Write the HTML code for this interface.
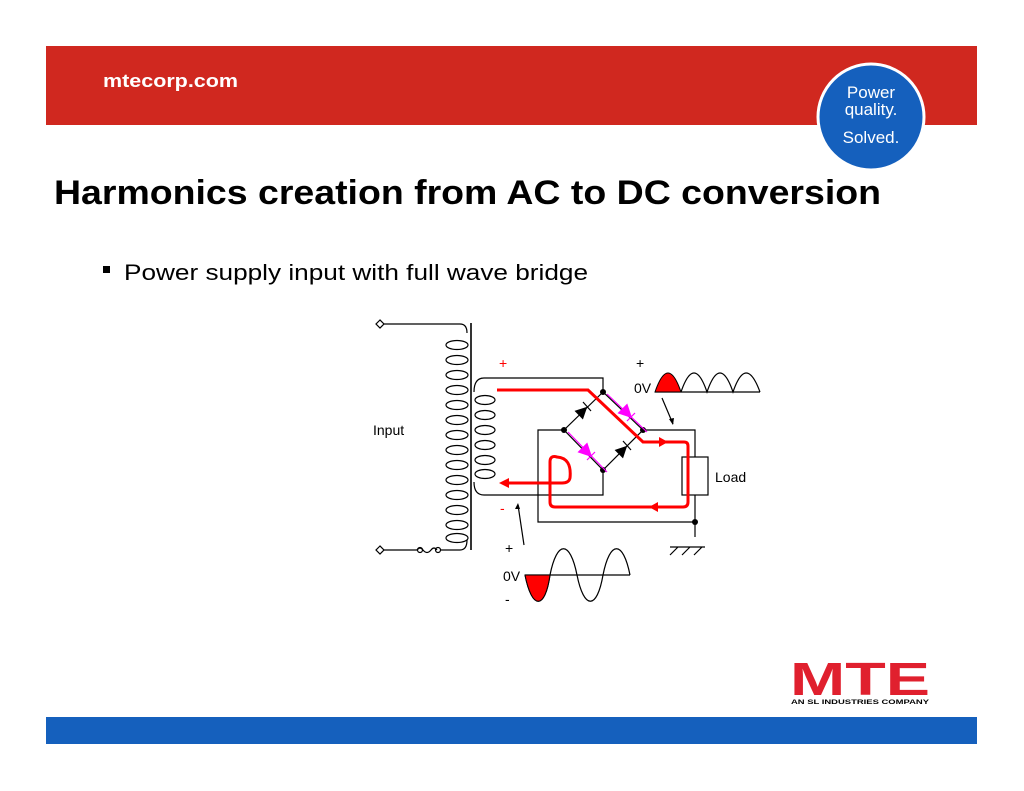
<!DOCTYPE html>
<html><head><meta charset="utf-8"><style>html,body{margin:0;padding:0;background:#fff}svg{display:block}</style></head>
<body>
<svg width="1024" height="791" viewBox="0 0 1024 791" xmlns="http://www.w3.org/2000/svg" font-family="Liberation Sans, sans-serif">
<rect x="0" y="0" width="1024" height="791" fill="#fff"/>
<rect x="46" y="46" width="931" height="79" fill="#d0281f"/>
<text x="103" y="87" font-size="18" font-weight="bold" fill="#fff" textLength="135" lengthAdjust="spacingAndGlyphs">mtecorp.com</text>
<circle cx="871" cy="117" r="53" fill="#1560bd" stroke="#fff" stroke-width="3"/>
<g fill="#fff" font-size="17" text-anchor="middle">
<text x="871" y="98">Power</text><text x="871" y="115">quality.</text><text x="871" y="143">Solved.</text></g>
<text x="54" y="204" font-size="34" font-weight="bold" fill="#000" textLength="827" lengthAdjust="spacingAndGlyphs">Harmonics creation from AC to DC conversion</text>
<rect x="103" y="266" width="7" height="7" fill="#000"/>
<text x="124" y="280" font-size="22" fill="#000" textLength="464" lengthAdjust="spacingAndGlyphs">Power supply input with full wave bridge</text>
<rect x="46" y="717" width="931" height="27" fill="#1560bd"/>
<text x="790" y="695" font-size="46" font-weight="900" fill="#e0202e" textLength="140" lengthAdjust="spacingAndGlyphs">MTE</text>
<text x="791" y="704" font-size="6" font-weight="bold" fill="#000" textLength="138" lengthAdjust="spacingAndGlyphs">AN SL INDUSTRIES COMPANY</text>

<g fill="none" stroke="#000" stroke-width="1.2">
<path d="M384 324 H460 Q467 324 467 333 M384 550 H417 M440 550 H460 Q467 550 467 540"/>
<path d="M417 550 q3 -4 6 0 q4 5 8 0 q3 -4 6 0" />
<circle cx="420" cy="550" r="2.5"/><circle cx="438" cy="550" r="2.5"/>
<path d="M380 320 l-4 4 4 4 4 -4z M380 546 l-4 4 4 4 4 -4z"/>
<line x1="471" y1="323" x2="471" y2="550" stroke-width="1.6"/>
<ellipse cx="457" cy="345" rx="11" ry="4.5"/><ellipse cx="457" cy="360" rx="11" ry="4.5"/><ellipse cx="457" cy="375" rx="11" ry="4.5"/><ellipse cx="457" cy="390" rx="11" ry="4.5"/><ellipse cx="457" cy="405" rx="11" ry="4.5"/><ellipse cx="457" cy="420" rx="11" ry="4.5"/><ellipse cx="457" cy="435" rx="11" ry="4.5"/><ellipse cx="457" cy="450" rx="11" ry="4.5"/><ellipse cx="457" cy="465" rx="11" ry="4.5"/><ellipse cx="457" cy="480" rx="11" ry="4.5"/><ellipse cx="457" cy="495" rx="11" ry="4.5"/><ellipse cx="457" cy="510" rx="11" ry="4.5"/><ellipse cx="457" cy="525" rx="11" ry="4.5"/><ellipse cx="457" cy="538" rx="11" ry="4.5"/>
<ellipse cx="485" cy="400" rx="10" ry="4.5"/><ellipse cx="485" cy="415" rx="10" ry="4.5"/><ellipse cx="485" cy="430" rx="10" ry="4.5"/><ellipse cx="485" cy="445" rx="10" ry="4.5"/><ellipse cx="485" cy="460" rx="10" ry="4.5"/><ellipse cx="485" cy="474" rx="10" ry="4.5"/>
<path d="M474 392 Q474 378 484 378 H603 V392 M474 482 Q474 495 484 495 H603 V470"/>
<path d="M603 392 L564 430 L603 470 L643 430 Z"/>
<path d="M564 430 H538 V522 H695 M643 430 H695 V457 M695 495 V537"/>
<rect x="682" y="457" width="26" height="38" fill="#fff"/>
<path d="M670 547 H705 M678 547 l-8 8 M690 547 l-8 8 M702 547 l-8 8"/>
<line x1="583" y1="402" x2="591" y2="411"/><line x1="623" y1="441" x2="631" y2="450"/>
</g>
<g fill="#000">
<circle cx="603" cy="392" r="3"/><circle cx="564" cy="430" r="3"/><circle cx="643" cy="430" r="3"/><circle cx="603" cy="470" r="3"/><circle cx="695" cy="522" r="3"/>
<path d="M587.3 406.8 L582.9 419.5 L574.5 410.9 Z"/><path d="M627.2 445.8 L623 458.4 L614.6 450 Z"/>
</g>
<g stroke="#f0f" stroke-width="1.2" fill="#f0f">
<path d="M607 394 L647 432" fill="none"/><path d="M631.2 417.2 L627 404.6 L618.6 413 Z"/><line x1="627" y1="421" x2="635" y2="413"/>
<path d="M568 432 L607 472" fill="none"/><path d="M591.2 456.2 L587 443.6 L578.6 452 Z"/><line x1="587" y1="460" x2="595" y2="452"/>
</g>
<g fill="none" stroke="#f00" stroke-width="3">
<path d="M497 390 H588 L643 442 H684 Q688 442 688 446 V502 Q688 507 683 507 H555 Q550 507 550 502 V462 Q550 455 557 457 Q572 458 570 478 Q569 483 562 483 H505"/>
</g>
<g fill="#f00">
<path d="M499 483 l10 -5 v10z"/><path d="M668 442 l-9 -5 v10z"/><path d="M649 507 l9 -5 v10z"/>
</g>
<g font-size="14" fill="#000">
<text x="373" y="435">Input</text><text x="715" y="482">Load</text>
<text x="636" y="368">+</text><text x="634" y="393">0V</text>
<text x="505" y="553">+</text><text x="503" y="581">0V</text><text x="505" y="604">-</text>
</g>
<text x="499" y="368" font-size="14" fill="#f00">+</text><text x="500" y="513" font-size="14" fill="#f00">-</text>
<g fill="none" stroke="#000" stroke-width="1.2">
<path d="M655 392 H760 M681 392 Q694 354 707 392 Q720 354 733 392 Q746 354 760 392"/>
<path d="M662 398 L673 424 M524 545 L518 505"/>
<path d="M525 575 H630 M525 575 C532 610 545 610 550 575 C557 540 570 540 577 575 C584 610 597 610 603 575 C610 540 623 540 630 575"/>
</g>
<path d="M655 392 Q668 354 681 392 Z" fill="#f00" stroke="#000"/>
<path d="M525 575 C532 610 545 610 550 575 Z" fill="#f00" stroke="#000"/>
<path d="M673 425 l-4 -6 5 -1z M518 503 l-3 6 5 0z" fill="#000"/>
</svg>
</body></html>
